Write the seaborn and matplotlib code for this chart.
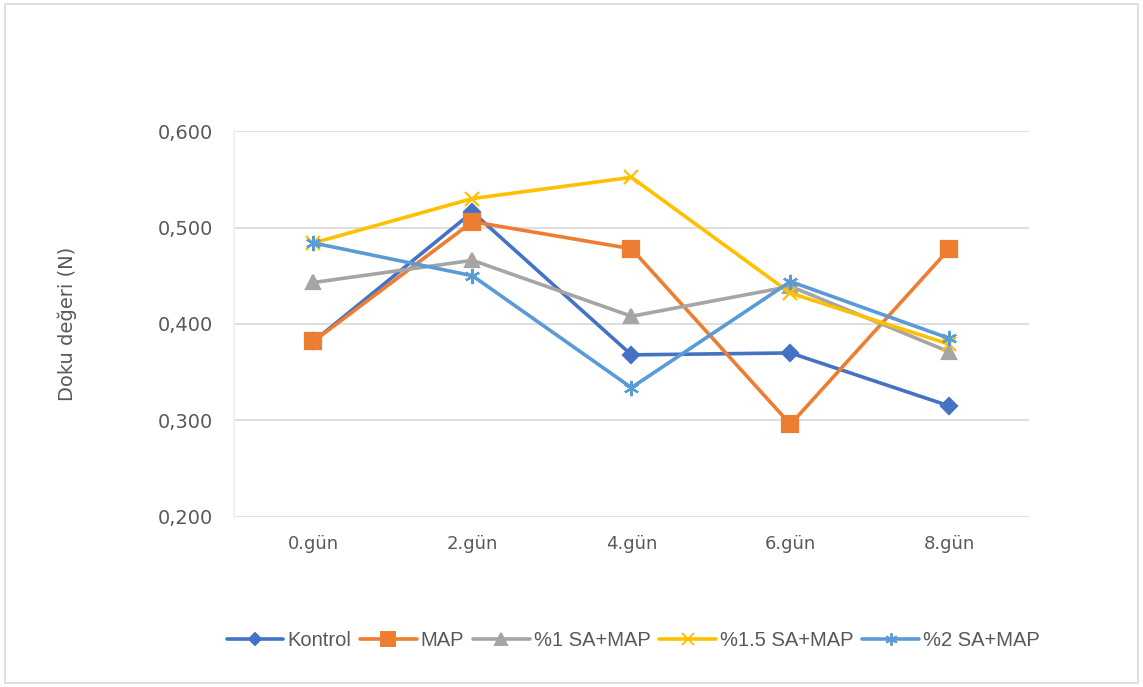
import matplotlib
matplotlib.use("Agg")
import matplotlib.pyplot as plt
from matplotlib.lines import Line2D
from matplotlib.patches import Rectangle
import seaborn as sns
import pandas as pd

days = ["0.gün", "2.gün", "4.gün", "6.gün", "8.gün"]
kontrol = [0.382, 0.516, 0.368, 0.370, 0.315]
map_vals = [0.382, 0.506, 0.478, 0.296, 0.478]
sa1 = [0.443, 0.466, 0.408, 0.439, 0.371]
sa15 = [0.484, 0.530, 0.552, 0.432, 0.379]
sa2 = [0.484, 0.450, 0.334, 0.444, 0.385]

series_names = ["Kontrol", "MAP", "%1 SA+MAP", "%1.5 SA+MAP", "%2 SA+MAP"]
series_values = [kontrol, map_vals, sa1, sa15, sa2]
colors = ["#4472C4", "#ED7D31", "#A5A5A5", "#FFC000", "#5B9BD5"]
markers = ["D", "s", "^", "x", (6, 2, 0)]
msizes = [8, 12, 10, 10, 11]

sns.set_theme(style="white")
plt.rcParams["font.family"] = ["DejaVu Sans"]

rows = []
for name, vals in zip(series_names, series_values):
    for d, v in zip(days, vals):
        rows.append({"Gün": d, "Değer": v, "Grup": name})
df = pd.DataFrame(rows)

fig = plt.figure(figsize=(11.43, 6.87), dpi=100)
ax = fig.add_axes([0.2047, 0.2475, 0.6955, 0.5618])

for name, c, m, ms in zip(series_names, colors, markers, msizes):
    sub = df[df["Grup"] == name]
    sns.lineplot(data=sub, x="Gün", y="Değer", ax=ax, color=c, marker=m,
                 markersize=ms, linewidth=2.6, markeredgecolor=c,
                 markerfacecolor=c, markeredgewidth=1.6, legend=False,
                 sort=False)

ax.set_xlim(-0.5, 4.5)
ax.set_ylim(0.2, 0.6)
ax.set_yticks([0.2, 0.3, 0.4, 0.5, 0.6])
ax.set_yticklabels(["0,200", "0,300", "0,400", "0,500", "0,600"])
ax.yaxis.grid(True, color="#D9D9D9", linewidth=1.2)
ax.xaxis.grid(False)
ax.set_axisbelow(True)
for s in ["top", "right", "bottom"]:
    ax.spines[s].set_visible(False)
ax.spines["left"].set_color("#EDEDED")
ax.spines["left"].set_linewidth(1.2)
ax.tick_params(axis="y", length=0, labelsize=14, colors="#595959", pad=15)
ax.tick_params(axis="x", length=0, labelsize=13, colors="#595959", pad=13)
ax.set_xlabel("")
ax.set_ylabel("Doku değeri (N)", fontsize=14, color="#595959", labelpad=58)

handles = [Line2D([0], [0], color=c, marker=m, markersize=ms * 0.8,
                  markeredgecolor=c, markerfacecolor=c, linewidth=2.6,
                  markeredgewidth=1.4)
           for c, m, ms in zip(colors, markers, msizes)]
fig.legend(handles, series_names, loc="center", ncol=5,
           bbox_to_anchor=(0.554, 1 - 641 / 687), frameon=False,
           handlelength=2.8, handletextpad=0.2,
           columnspacing=0.45, labelcolor="#595959",
           prop={"family": "Liberation Sans", "size": 14.5})

fig.patches.append(Rectangle((0.004, 0.006), 0.992, 0.988,
                             transform=fig.transFigure, fill=False,
                             edgecolor="#D9D9D9", linewidth=1.2))

fig.savefig("out.png", dpi=100, facecolor="white")
